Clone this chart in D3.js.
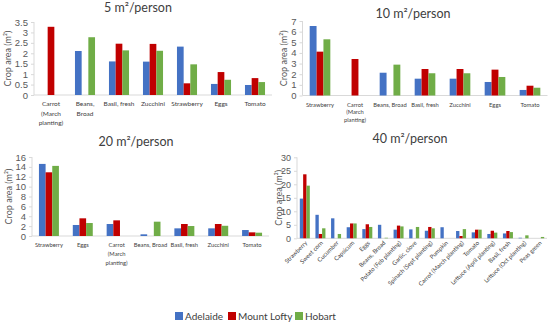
<!DOCTYPE html>
<html>
<head>
<meta charset="utf-8">
<script src="https://cdn.jsdelivr.net/npm/d3@7"></script>
<style>
    body { margin: 0; background: #fff; }
    svg { font-family: Lato, "Open Sans", sans-serif; }
    .tick text { fill: #595959; }
    .domain, .tick line { stroke: #d9d9d9; }
</style>
</head>
<body>
<div id="chart"></div>
<script>
'use strict';

const seriesNames = ['Adelaide', 'Mount Lofty', 'Hobart'];
const colours = ['#4472C4', '#C00000', '#70AD47'];

// 5 m2/person
const cats5 = ['Carrot\n(March\nplanting)', 'Beans,\nBroad', 'Basil, fresh', 'Zucchini', 'Strawberry', 'Eggs', 'Tomato'];
const adelaide5 = [0, 2.11, 1.61, 1.6, 2.32, 0.53, 0.48];
const lofty5 = [3.27, 0, 2.46, 2.45, 0.56, 1.1, 0.81];
const hobart5 = [0, 2.77, 2.14, 2.12, 1.47, 0.73, 0.62];
const ticks5 = [0, 0.5, 1, 1.5, 2, 2.5, 3, 3.5];

// 10 m2/person
const cats10 = ['Strawberry', 'Carrot\n(March\nplanting)', 'Beans, Broad', 'Basil, fresh', 'Zucchini', 'Eggs', 'Tomato'];
const adelaide10 = [6.53, 0, 2.14, 1.58, 1.58, 1.27, 0.52];
const lofty10 = [4.12, 3.43, 0, 2.49, 2.49, 2.43, 0.92];
const hobart10 = [5.28, 0, 2.9, 2.09, 2.09, 1.74, 0.73];
const ticks10 = [0, 1, 2, 3, 4, 5, 6, 7];

// 20 m2/person
const cats20 = ['Strawberry', 'Eggs', 'Carrot\n(March\nplanting)', 'Beans, Broad', 'Basil, fresh', 'Zucchini', 'Tomato'];
const adelaide20 = [14.6, 2.23, 2.43, 0.34, 1.55, 1.55, 1.21];
const lofty20 = [12.9, 3.58, 3.17, 0, 2.43, 2.43, 0.74];
const hobart20 = [14.2, 2.63, 0, 2.9, 2.02, 2.07, 0.67];
const ticks20 = [0, 2, 4, 6, 8, 10, 12, 14, 16];

// 40 m2/person
const cats40 = ['Strawberry', 'Sweet corn', 'Cucumber', 'Capsicum', 'Eggs', 'Beans, Broad', 'Potato (Feb planting)',
    'Garlic, clove', 'Spinach (Sept planting)', 'Pumpkin', 'Carrot (March planting)', 'Tomato',
    'Lettuce (April planting)', 'Basil, fresh', 'Lettuce (Oct planting)', 'Peas green'];
const adelaide40 = [14.7, 8.7, 7.4, 4.1, 3.4, 5.0, 3.2, 3.3, 2.8, 4.1, 2.7, 2.2, 1.6, 1.8, 0.2, 0];
const lofty40 = [23.7, 1.6, 0, 5.5, 5.2, 0, 4.7, 0, 4.2, 0, 0.85, 3.2, 2.8, 2.7, 0, 0];
const hobart40 = [19.5, 3.7, 1.6, 5.5, 4.2, 0.2, 4.4, 4.2, 3.7, 0, 3.4, 3.2, 2.1, 2.3, 1.1, 0.5];
const ticks40 = [0, 5, 10, 15, 20, 25, 30];

var Charts = function charts() {

    let svg = null;

    let renderSVG = function renderSVG(element, config) {
        svg = d3.select(element)
            .append('svg')
            .attr('width', config.width)
            .attr('height', config.height);
    }

    let drawPanel = function drawPanel(p, categories, series, ticks) {

        let g = svg.append('g').attr('class', 'panel');

        let xScale = d3.scaleBand()
            .domain(categories)
            .range([p.x0, p.x1])
            .paddingInner(p.gap)
            .paddingOuter(p.gap / 2);

        let subScale = d3.scaleBand()
            .domain(d3.range(series.length))
            .range([0, xScale.bandwidth()]);

        let yScale = d3.scaleLinear()
            .domain([0, ticks[ticks.length - 1]])
            .range([p.y0, p.y1]);

        // y axis
        let yAxis = d3.axisLeft(yScale)
            .tickValues(ticks)
            .tickFormat(d => String(d))
            .tickSize(3)
            .tickPadding(3);

        let ya = g.append('g')
            .attr('transform', 'translate(' + p.x0 + ',0)')
            .call(yAxis);
        ya.selectAll('text').style('font-size', p.tickFont + 'px');
        ya.select('.domain').attr('d', 'M0,' + p.y1 + 'V' + p.y0);

        // baseline
        g.append('line')
            .attr('x1', p.x0).attr('x2', p.x1)
            .attr('y1', yScale(0)).attr('y2', yScale(0))
            .attr('stroke', '#d9d9d9');

        // bars
        series.forEach((values, si) => {
            g.append('g')
                .selectAll('rect')
                .data(values)
                .enter()
                .append('rect')
                .attr('x', (d, i) => xScale(categories[i]) + subScale(si))
                .attr('width', subScale.bandwidth())
                .attr('y', d => yScale(d))
                .attr('height', d => yScale(0) - yScale(d))
                .attr('fill', colours[si]);
        });

        // category labels
        let labels = g.append('g')
            .selectAll('text')
            .data(categories)
            .enter()
            .append('text')
            .attr('fill', '#404040')
            .style('font-size', p.catFont + 'px');

        if (p.rotate) {
            labels
                .attr('text-anchor', 'end')
                .attr('transform', d => 'translate(' + (xScale(d) + xScale.bandwidth() / 2 + 3) + ',' + (p.y0 + 5) + ') rotate(-45)')
                .text(d => d);
        } else {
            labels
                .attr('text-anchor', 'middle')
                .attr('transform', d => 'translate(' + (xScale(d) + xScale.bandwidth() / 2) + ',' + (p.y0 + 11) + ')')
                .selectAll('tspan')
                .data(d => d.split('\n'))
                .enter()
                .append('tspan')
                .attr('x', 0)
                .attr('dy', (d, i) => i === 0 ? 0 : p.lineGap)
                .text(d => d);
        }

        // title
        g.append('text')
            .attr('x', p.titleX)
            .attr('y', p.titleY)
            .attr('text-anchor', 'middle')
            .attr('fill', '#404040')
            .style('font-size', '12.5px')
            .text(p.title);

        // y title
        g.append('text')
            .attr('transform', 'translate(' + p.yTitleX + ',' + ((p.y0 + p.y1) / 2) + ') rotate(-90)')
            .attr('text-anchor', 'middle')
            .attr('dy', '0.35em')
            .attr('fill', '#595959')
            .style('font-size', '9px')
            .text('Crop area (m²)');
    }

    let drawLegend = function drawLegend(config) {
        let lg = svg.append('g').attr('class', 'legend');
        let xs = [175, 228, 295];
        seriesNames.forEach((name, i) => {
            lg.append('rect')
                .attr('x', xs[i]).attr('y', config.legendY - 4)
                .attr('width', 8).attr('height', 8)
                .attr('fill', colours[i]);
            lg.append('text')
                .attr('x', xs[i] + 10).attr('y', config.legendY)
                .attr('dy', '0.35em')
                .attr('fill', '#404040')
                .style('font-size', '10px')
                .text(name);
        });
    }

    let render = function render(el) {

        let config = { width: 550, height: 325, legendY: 316 };

        renderSVG(el, config);

        drawPanel({ x0: 34, x1: 272, y0: 95, y1: 22, gap: 0.41, tickFont: 9.5, catFont: 6.5, lineGap: 9.5,
            title: '5 m²/person', titleX: 138, titleY: 12, yTitleX: 8 },
            cats5, [adelaide5, lofty5, hobart5], ticks5);

        drawPanel({ x0: 302.5, x1: 547.5, y0: 95.5, y1: 21, gap: 0.41, tickFont: 9.5, catFont: 5.8, lineGap: 7.5,
            title: '10 m²/person', titleX: 413, titleY: 18, yTitleX: 284 },
            cats10, [adelaide10, lofty10, hobart10], ticks10);

        drawPanel({ x0: 32, x1: 269, y0: 236, y1: 157, gap: 0.41, tickFont: 9.5, catFont: 5.8, lineGap: 9,
            title: '20 m²/person', titleX: 136, titleY: 146, yTitleX: 9 },
            cats20, [adelaide20, lofty20, hobart20], ticks20);

        drawPanel({ x0: 297, x1: 547, y0: 238.3, y1: 157.3, gap: 0.36, tickFont: 9, catFont: 6, rotate: true,
            title: '40 m²/person', titleX: 410, titleY: 143, yTitleX: 279 },
            cats40, [adelaide40, lofty40, hobart40], ticks40);

        drawLegend(config);
    }

    return { render: render };
}

Charts().render('#chart');
</script>
</body>
</html>
